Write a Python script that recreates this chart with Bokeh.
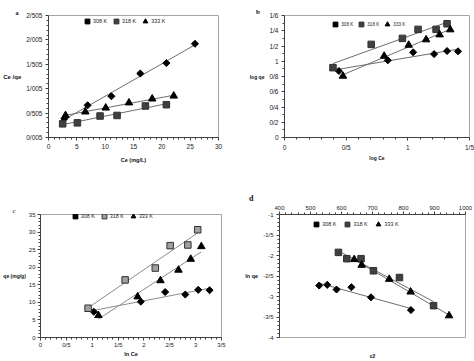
import numpy as np
from bokeh.plotting import figure
from bokeh.layouts import row, column
from bokeh.models import FixedTicker, Legend, LegendItem, LinearAxis, Title
from bokeh.embed import file_html
from bokeh.resources import INLINE

series = ["308 K", "318 K", "333 K"]

# ---- panel a : Ce/qe vs Ce ----
a_x_308 = [2.8, 6.9, 11.1, 16.2, 20.8, 25.85]
a_y_308 = [0.39, 0.665, 0.85, 1.317, 1.53, 1.925]
a_x_318 = [2.5, 5.1, 9.1, 12.1, 17.1, 20.8]
a_y_318 = [0.285, 0.305, 0.445, 0.457, 0.651, 0.677]
a_x_333 = [3.0, 6.5, 10.1, 14.2, 18.3, 22.1]
a_y_333 = [0.457, 0.531, 0.611, 0.717, 0.797, 0.857]
a_xticks = [0, 5, 10, 15, 20, 25, 30]
a_yticks = [0.005, 0.505, 1.005, 1.505, 2.005, 2.505]
a_ylabels = ["0/005", "0/505", "1/005", "1/505", "2/005", "2/505"]

# ---- panel b : log qe vs log Ce ----
b_x_308 = [0.441, 0.838, 1.043, 1.213, 1.318, 1.407]
b_y_308 = [0.872, 1.012, 1.117, 1.094, 1.134, 1.13]
b_x_318 = [0.393, 0.703, 0.956, 1.083, 1.229, 1.318]
b_y_318 = [0.916, 1.221, 1.30, 1.418, 1.418, 1.492]
b_x_333 = [0.474, 0.808, 1.007, 1.148, 1.258, 1.344]
b_y_333 = [0.806, 1.068, 1.212, 1.283, 1.348, 1.414]
b_xticks = [0, 0.5, 1, 1.5]
b_xlabels = ["0", "0/5", "1", "1/5"]
b_yticks = [0, 0.2, 0.4, 0.6, 0.8, 1.0, 1.2, 1.4, 1.6]
b_ylabels = ["0", "0/2", "0/4", "0/6", "0/8", "1", "1/2", "1/4", "1/6"]

# ---- panel c : qe vs ln Ce ----
c_x_308 = [1.03, 1.94, 2.41, 2.80, 3.05, 3.27]
c_y_308 = [7.34, 10.19, 12.93, 12.23, 13.56, 13.46]
c_x_318 = [0.92, 1.636, 2.22, 2.507, 2.849, 3.04]
c_y_318 = [8.32, 16.38, 19.76, 26.14, 26.33, 30.66]
c_x_333 = [1.12, 1.879, 2.32, 2.668, 2.905, 3.11]
c_y_333 = [6.28, 11.6, 16.2, 19.2, 22.3, 25.9]
c_xticks = [0, 0.5, 1, 1.5, 2, 2.5, 3, 3.5]
c_xlabels = ["0", "0/5", "1", "1/5", "2", "2/5", "3", "3/5"]
c_yticks = [0, 5, 10, 15, 20, 25, 30, 35]

# ---- panel d : ln qe vs eps^2 ----
d_x_308 = [528, 554, 584, 632, 695, 824]
d_y_308 = [-2.733, -2.716, -2.83, -2.774, -3.02, -3.33]
d_x_318 = [590, 617, 663, 703, 787, 897]
d_y_318 = [-1.924, -2.078, -2.078, -2.373, -2.537, -3.223]
d_x_333 = [641, 665, 754, 823, 947]
d_y_333 = [-2.096, -2.235, -2.578, -2.887, -3.468]
d_xticks = [400, 500, 600, 700, 800, 900, 1000]
d_yticks = [-1, -1.5, -2, -2.5, -3, -3.5, -4]
d_ylabels = ["-1", "-1/5", "-2", "-2/5", "-3", "-3/5", "-4"]

SANS = "Liberation Sans"
SERIF = "Liberation Serif"
HAS_ORIENT = "axis_label_orientation" in LinearAxis.properties()
HAS_STANDOFF = "standoff" in Title.properties()


def minor(ticks, n=5):
    out = []
    for a, b in zip(ticks[:-1], ticks[1:]):
        out.extend(list(np.linspace(a, b, n + 1)[1:-1]))
    return [float(v) for v in out]


def style_axis(ax, fs):
    ax.axis_line_color = "#404040"
    ax.major_tick_line_color = "#404040"
    ax.minor_tick_line_color = "#404040"
    ax.major_tick_out = 3
    ax.major_tick_in = 0
    ax.minor_tick_out = 2
    ax.minor_tick_in = 0
    ax.major_label_text_font = SANS
    ax.major_label_text_font_size = fs
    ax.major_label_text_color = "#222222"
    ax.major_label_standoff = 3
    ax.axis_label_text_font = SANS
    ax.axis_label_text_font_style = "bold"
    ax.axis_label_text_color = "#111111"


def make(width, height, geom, xr, yr, letter, letter_off, letter_fs, letter_style="bold",
         x_loc="below", fs="6.5px"):
    left, top, fw, fh = geom
    p = figure(width=width, height=height, x_range=xr, y_range=yr,
               output_backend="svg", toolbar_location=None, title=letter,
               x_axis_location=x_loc,
               min_border_left=left, min_border_top=top,
               min_border_right=width - left - fw,
               min_border_bottom=height - top - fh)
    p.title.align = "left"
    p.title.offset = letter_off
    p.title.text_font = SERIF
    p.title.text_font_size = letter_fs
    p.title.text_font_style = letter_style
    p.title.text_color = "#111111"
    if HAS_STANDOFF:
        p.title.standoff = 0
    p.grid.visible = False
    p.outline_line_color = "#a6a6a6"
    p.outline_line_width = 1
    p.background_fill_color = "white"
    p.border_fill_color = "white"
    style_axis(p.xaxis[0], fs)
    style_axis(p.yaxis[0], fs)
    return p


def ticks(axis, t, labels=None, n=5):
    axis.ticker = FixedTicker(ticks=t, minor_ticks=minor(t, n))
    if labels is not None:
        axis.major_label_overrides = dict(zip(t, labels))


def y_title(p, text, fs, standoff=2):
    ax = p.yaxis[0]
    ax.axis_label = text
    ax.axis_label_text_font_size = fs
    ax.axis_label_standoff = standoff
    if HAS_ORIENT:
        ax.axis_label_orientation = "horizontal"


def x_title(ax, text, fs, standoff):
    ax.axis_label = text
    ax.axis_label_text_font_size = fs
    ax.axis_label_standoff = standoff


def series_plot(p, xs, ys, sq_fill="#404040", line_color="#6e6e6e"):
    specs = [dict(marker="square", angle=np.pi / 4, size=5, fill_color="#000000", line_color="#000000"),
             dict(marker="square", size=6.5, fill_color=sq_fill, line_color="#303030"),
             dict(marker="triangle", size=7.5, fill_color="#000000", line_color="#000000")]
    for (x, y) in zip(xs, ys):
        k, b = np.polyfit(x, y, 1)
        x0, x1 = min(x), max(x)
        p.line([x0, x1], [k * x0 + b, k * x1 + b], line_color=line_color, line_width=1)
    rs = []
    for (x, y), spec in zip(zip(xs, ys), specs):
        rs.append(p.scatter(x, y, **spec))
    return rs


def series_legend(p, rs, vx, vy, fs="5.4px", spacing=3):
    items = [LegendItem(label=n, renderers=[r]) for n, r in zip(series, rs)]
    lg = Legend(items=items, location=(vx, vy), orientation="horizontal",
                background_fill_alpha=0, border_line_alpha=0, padding=0, margin=0,
                spacing=spacing, glyph_width=12, glyph_height=12, label_standoff=0,
                label_width=0, label_height=12, label_text_font=SANS,
                label_text_font_size=fs, label_text_color="#222222",
                label_text_baseline="middle")
    p.add_layout(lg, "center")


# ---------- panel a ----------
ga = (43, 13, 175, 125)
pa = make(237, 180, ga, (0, 30), (0.005, 2.505), "a", -33, "6px")
ticks(pa.xaxis[0], a_xticks)
ticks(pa.yaxis[0], a_yticks, a_ylabels)
ra = series_plot(pa, [a_x_308, a_x_318, a_x_333], [a_y_308, a_y_318, a_y_333])
series_legend(pa, ra, 33, 110)
x_title(pa.xaxis[0], "Ce (mg/L)", "5.5px", 5)
y_title(pa, "Ce /qe", "6px", 2)

# ---------- panel b ----------
gb = (47, 15, 185, 122)
pb = make(237, 180, gb, (0, 1.5), (0, 1.6), "b", -28.5, "7px")
ticks(pb.xaxis[0], b_xticks, b_xlabels)
ticks(pb.yaxis[0], b_yticks, b_ylabels, n=2)
rb = series_plot(pb, [b_x_308, b_x_318, b_x_333], [b_y_308, b_y_318, b_y_333])
series_legend(pb, rb, 45.3, 107, fs="4.6px", spacing=2)
x_title(pb.xaxis[0], "log Ce", "5px", 1)
y_title(pb, "log qe", "5px", 2)

# ---------- panel c ----------
gc = (33, 28, 188, 131)
pc = make(237, 181, gc, (0, 3.5), (0, 35), "c", -28, "7px", letter_style="normal", fs="6px")
ticks(pc.xaxis[0], c_xticks, c_xlabels)
ticks(pc.yaxis[0], c_yticks)
pc.xaxis[0].major_label_standoff = 1
pc.yaxis[0].major_label_standoff = 2
rc = series_plot(pc, [c_x_308, c_x_318, c_x_333], [c_y_308, c_y_318, c_y_333],
                 sq_fill="#a0a0a0", line_color="#8c8c8c")
series_legend(pc, rc, 28.7, 115)
x_title(pc.xaxis[0], "ln Ce", "5.5px", 0)
y_title(pc, "qe (mg/g)", "5px", 0)

# ---------- panel d ----------
gd = (42, 34, 186, 123)
pd_ = make(237, 181, gd, (400, 1000), (-4, -1), "d", -30.4, "8px", x_loc="above", fs="6px")
ticks(pd_.xaxis[0], d_xticks)
pd_.xaxis[0].major_label_standoff = 2
ticks(pd_.yaxis[0], d_yticks, d_ylabels)
rd = series_plot(pd_, [d_x_308, d_x_318, d_x_333], [d_y_308, d_y_318, d_y_333])
series_legend(pd_, rd, 31.3, 107, spacing=5)
d_bottom = LinearAxis(ticker=FixedTicker(ticks=[]), axis_line_alpha=0,
                      major_tick_line_alpha=0, minor_tick_line_alpha=0)
style_axis(d_bottom, "6px")
d_bottom.axis_line_alpha = 0
x_title(d_bottom, "ε2", "5.5px", 15)
pd_.add_layout(d_bottom, "below")
y_title(pd_, "ln qe", "5.5px", 2)

layout = column(row(pa, pb), row(pc, pd_))

open("out.html", "w").write(file_html(layout, INLINE))
